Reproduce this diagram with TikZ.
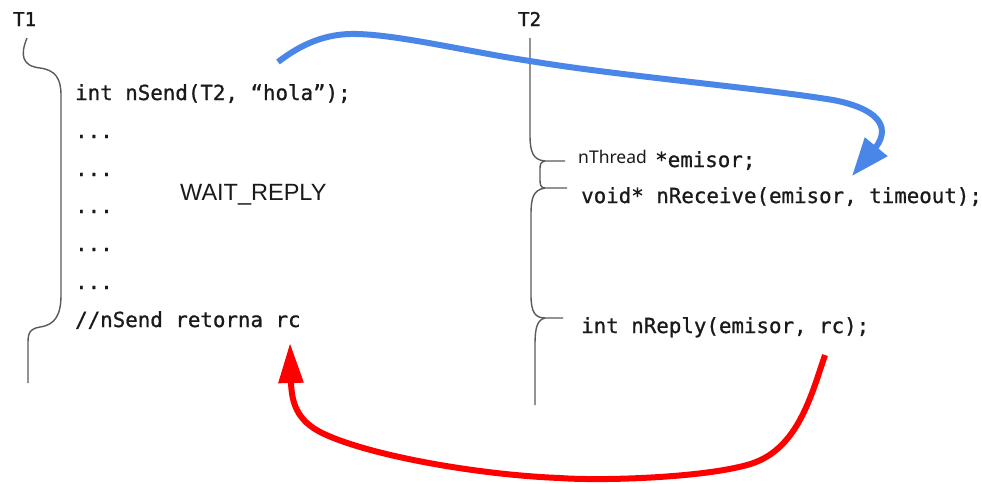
\documentclass[tikz,border=0pt]{standalone}
\usepackage{fontspec}
\setmainfont{Liberation Sans}
\setmonofont[FakeBold=0.9]{DejaVu Sans Mono}
\newfontfamily\notosans{Noto Sans}
\newfontfamily\lsans{Liberation Sans}
\newfontfamily\labelmono[FakeBold=1.6]{DejaVu Sans Mono}
\usetikzlibrary{arrows.meta}
\definecolor{codeink}{HTML}{1A1A1A}
\definecolor{bracegray}{HTML}{5A5A5A}
\definecolor{sendblue}{HTML}{4A86E8}
\definecolor{replyred}{HTML}{FF0000}
\tikzset{
  code/.style={anchor=base west, inner sep=0pt, text=codeink, font=\ttfamily\fontsize{20.8}{24}\selectfont},
  thread/.style={anchor=base west, inner sep=0pt, text=codeink, font=\labelmono\fontsize{19}{22}\selectfont},
  state/.style={anchor=base west, inner sep=0pt, text=codeink, font=\lsans\fontsize{23.5}{28}\selectfont},
  smallsans/.style={anchor=base west, inner sep=0pt, text=codeink, font=\notosans\fontsize{17.5}{21}\selectfont},
  bracel/.style={draw=bracegray, line width=1.4pt},
  sendarrow/.style={draw=sendblue, line width=6pt, -{Triangle[length=38pt,width=28pt]}},
  replyarrow/.style={draw=replyred, line width=6pt, -{Triangle[length=40pt,width=24pt]}},
}
\begin{document}
\begin{tikzpicture}[x=1pt,y=-1pt]
\useasboundingbox[fill=white] (0,0) rectangle (982,483);
% thread labels
\node[thread] (t1) at (13,26) {T1};
\node[thread] (t2) at (518,26) {T2};
% T1 code
\node[code] (send) at (75,100) {int nSend(T2, “hola”);};
\node[code] (d1) at (75,138) {...};
\node[code] (d2) at (75,176) {...};
\node[code] (d3) at (75,213) {...};
\node[code] (d4) at (75,251) {...};
\node[code] (d5) at (75,289) {...};
\node[code] (ret) at (75,327) {//nSend retorna rc};
\node[state] (wait) at (180,200) {WAIT\_REPLY};
% T2 code
\node[smallsans] (nth) at (578,163) {nThread};
\node[code] (emi) at (655,167) {*emisor;};
\node[code] (recv) at (581,203) {void* nReceive(emisor, timeout);};
\node[code] (reply) at (581,333) {int nReply(emisor, rc);};
% T1 timeline brace
\draw[bracel] (27,38) .. controls (20,55) and (22,66) .. (40,68)
  .. controls (55,70) and (61,78) .. (61,95) -- (61,295)
  .. controls (61,315) and (55,325) .. (40,327)
  .. controls (28,329) and (28,335) .. (28,345) -- (28,383);
% T2 timeline with braces
\draw[bracel] (530,38) -- (530,135) .. controls (530,152) and (533,160) .. (545,161) -- (565,161);
\draw[bracel] (545,161) .. controls (540,162) and (540,165) .. (540,170) -- (540,180)
  .. controls (540,185) and (541,188) .. (545,188) -- (567,188);
\draw[bracel] (545,188) .. controls (533,190) and (531,198) .. (531,215) -- (531,295)
  .. controls (531,312) and (535,318) .. (545,318) -- (563,318);
\draw[bracel] (545,318) .. controls (537,320) and (535,328) .. (535,345) -- (535,405);
% connector end points
\coordinate (sendfrom) at (278,62);
\coordinate (sendto) at (852,176);
\coordinate (replyfrom) at (825,355);
\coordinate (replyto) at (290,343);
% blue send arrow
\draw[sendarrow] (sendfrom) .. controls (300,45) and (325,33) .. (357,34)
  .. controls (400,35) and (470,52) .. (530,61)
  .. controls (620,76) and (760,88) .. (833,100)
  .. controls (875,108) and (892,125) .. (876,147) -- (sendto);
% red reply arrow
\draw[replyarrow] (replyfrom) .. controls (810,400) and (796,452) .. (747,465)
  .. controls (700,478) and (600,481) .. (560,478)
  .. controls (480,475) and (370,456) .. (322,433)
  .. controls (296,420) and (292,402) .. (291,383) -- (replyto);
\end{tikzpicture}
\end{document}
